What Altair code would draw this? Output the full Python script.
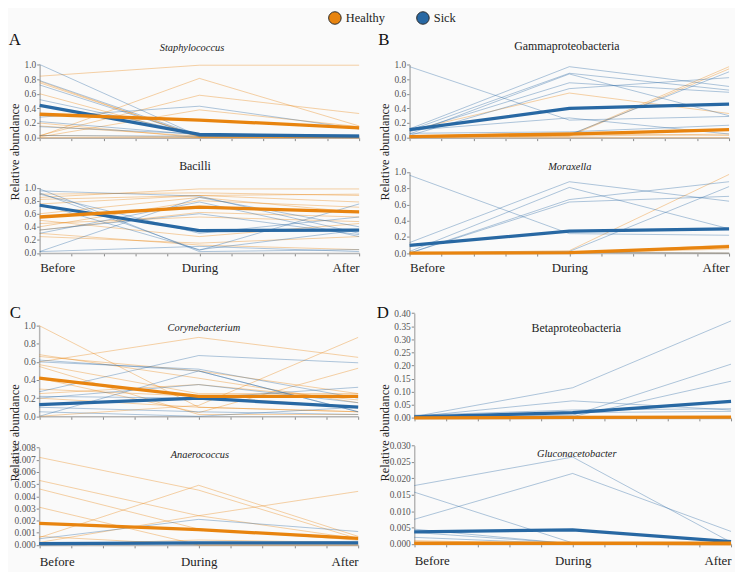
import altair as alt
import pandas as pd

W, H = 735, 564
FONT = "Liberation Serif"
ORANGE = "#E8840F"
BLUE = "#2868A3"

groups = ["Healthy", "Sick"]
time_labels = ["Before", "During", "After"]

# ---- data (relative abundance at Before / During / After) ----
staph_healthy = [[0.84, 0.99, 0.99], [0.02, 0.81, 0.16], [0.03, 0.58, 0.33], [0.77, 0.01, 0.01],
                 [0.75, 0.02, 0.02], [0.60, 0.01, 0.00], [0.20, 0.00, 0.00], [0.16, 0.02, 0.01],
                 [0.03, 0.01, 0.00], [0.00, 0.00, 0.00], [0.01, 0.38, 0.15]]
staph_sick = [[1.00, 0.02, 0.02], [0.78, 0.03, 0.02], [0.72, 0.02, 0.01], [0.52, 0.05, 0.02],
              [0.28, 0.43, 0.12], [0.22, 0.04, 0.03], [0.15, 0.05, 0.04], [0.03, 0.02, 0.01]]
staph_mean_healthy = [0.32, 0.24, 0.135]
staph_mean_sick = [0.44, 0.045, 0.02]

bacilli_healthy = [[0.85, 0.98, 0.98], [0.82, 0.88, 0.90], [0.90, 0.92, 0.88], [0.75, 0.88, 0.78],
                   [0.60, 0.85, 0.62], [0.45, 0.55, 0.48], [0.40, 0.80, 0.70], [0.30, 0.12, 0.05],
                   [0.25, 0.15, 0.25], [0.50, 0.25, 0.45], [0.35, 0.62, 0.55]]
bacilli_sick = [[0.98, 0.02, 0.05], [0.95, 0.87, 0.30], [0.92, 0.04, 0.75], [0.90, 0.30, 0.55],
                [0.35, 0.60, 0.28], [0.02, 0.85, 0.40], [0.30, 0.78, 0.25], [0.02, 0.10, 0.02],
                [0.75, 0.05, 0.35]]
bacilli_mean_healthy = [0.55, 0.70, 0.63]
bacilli_mean_sick = [0.73, 0.34, 0.35]

gamma_healthy = [[0.10, 0.61, 0.33], [0.02, 0.03, 0.97], [0.01, 0.02, 0.94], [0.00, 0.05, 0.03],
                 [0.02, 0.07, 0.10], [0.00, 0.00, 0.00], [0.01, 0.02, 0.05]]
gamma_sick = [[0.97, 0.24, 0.29], [0.12, 0.97, 0.70], [0.10, 0.88, 0.65], [0.05, 0.87, 0.30],
              [0.08, 0.75, 0.62], [0.03, 0.67, 0.82], [0.10, 0.27, 0.05], [0.02, 0.04, 0.90],
              [0.06, 0.08, 0.17]]
gamma_mean_healthy = [0.015, 0.05, 0.11]
gamma_mean_sick = [0.11, 0.40, 0.46]

morax_healthy = [[0.00, 0.03, 0.97], [0.00, 0.00, 0.10], [0.00, 0.00, 0.05], [0.00, 0.01, 0.00]]
morax_sick = [[0.96, 0.24, 0.22], [0.13, 0.88, 0.64], [0.02, 0.81, 0.30], [0.00, 0.66, 0.88],
              [0.00, 0.63, 0.70], [0.00, 0.02, 0.82], [0.00, 0.01, 0.00]]
morax_mean_healthy = [0.0, 0.005, 0.08]
morax_mean_sick = [0.095, 0.27, 0.30]

coryne_healthy = [[1.00, 0.10, 0.05], [0.68, 0.42, 0.15], [0.66, 0.50, 0.25], [0.60, 0.87, 0.65],
                  [0.57, 0.25, 0.25], [0.42, 0.04, 0.53], [0.30, 0.22, 0.10], [0.20, 0.10, 0.05],
                  [0.00, 0.12, 0.87], [0.55, 0.02, 0.02], [0.25, 0.35, 0.18]]
coryne_sick = [[0.62, 0.50, 0.05], [0.60, 0.52, 0.20], [0.27, 0.67, 0.59], [0.00, 0.50, 0.05],
               [0.20, 0.35, 0.15], [0.22, 0.20, 0.32], [0.05, 0.00, 0.10], [0.10, 0.05, 0.02]]
coryne_mean_healthy = [0.42, 0.22, 0.22]
coryne_mean_sick = [0.13, 0.20, 0.10]

anaero_healthy = [[0.0072, 0.0045, 0.0005], [0.0053, 0.0024, 0.0005], [0.0046, 0.0013, 0.0004],
                  [0.0031, 0.0000, 0.0000], [0.0006, 0.0049, 0.0007], [0.0002, 0.0024, 0.0044],
                  [0.0007, 0.0000, 0.0000], [0.0000, 0.0004, 0.0002]]
anaero_sick = [[0.0005, 0.0021, 0.0011], [0.0001, 0.0002, 0.0001], [0.0000, 0.0001, 0.0003]]
anaero_mean_healthy = [0.00176, 0.00125, 0.00054]
anaero_mean_sick = [0.0001, 0.00016, 0.00016]

beta_healthy = [[0.000, 0.002, 0.003], [0.001, 0.003, 0.005], [0.000, 0.000, 0.001]]
beta_sick = [[0.005, 0.115, 0.370], [0.005, 0.065, 0.030], [0.005, 0.010, 0.205],
             [0.005, 0.005, 0.140], [0.010, 0.030, 0.035], [0.005, 0.020, 0.025]]
beta_mean_healthy = [0.0005, 0.002, 0.003]
beta_mean_sick = [0.004, 0.020, 0.063]

glucon_healthy = [[0.0010, 0.0000, -0.0005], [0.0004, 0.0001, 0.0001], [0.0002, 0.0000, 0.0000]]
glucon_sick = [[0.0178, 0.0265, 0.0005], [0.0075, 0.0215, 0.0038], [0.0158, 0.0003, 0.0000],
               [0.0045, 0.0000, 0.0003], [0.0035, 0.0001, 0.0001], [0.0020, 0.0000, 0.0001]]
glucon_mean_healthy = [0.0002, 0.0002, 0.0002]
glucon_mean_sick = [0.0037, 0.0043, 0.0007]

panel_letters = ["A", "B", "C", "D"]

# ---- layout (pixel geometry of each panel, chart coordinates) ----
panels = [
    dict(title="Staphylococcus", italic=True, h=staph_healthy, s=staph_sick,
         mh=staph_mean_healthy, ms=staph_mean_sick, ydom=[0, 1], step=0.2, fmt=".1f",
         xr=[32, 355], yr=[128, 54], xlab=False, ytitle=True, tpos=(186, 37), titleX=-25, titleY=142),
    dict(title="Bacilli", italic=False, h=bacilli_healthy, s=bacilli_sick,
         mh=bacilli_mean_healthy, ms=bacilli_mean_sick, ydom=[0, 1], step=0.2, fmt=".1f",
         xr=[32, 355], yr=[244.5, 178.5], xlab=True, lpad=6, ytitle=False, tpos=(189, 157)),
    dict(title="Gammaproteobacteria", italic=False, h=gamma_healthy, s=gamma_sick,
         mh=gamma_mean_healthy, ms=gamma_mean_sick, ydom=[0, 1], step=0.2, fmt=".1f",
         xr=[406, 729], yr=[128, 54], xlab=False, ytitle=True, tpos=(565, 35), titleX=-25, titleY=142),
    dict(title="Moraxella", italic=True, h=morax_healthy, s=morax_sick,
         mh=morax_mean_healthy, ms=morax_mean_sick, ydom=[0, 1], step=0.2, fmt=".1f",
         xr=[406, 729], yr=[244.7, 162.7], xlab=True, lpad=6, ytitle=False, tpos=(568, 158)),
    dict(title="Corynebacterium", italic=True, h=coryne_healthy, s=coryne_sick,
         mh=coryne_mean_healthy, ms=coryne_mean_sick, ydom=[0, 1], step=0.2, fmt=".1f",
         xr=[31.5, 354], yr=[409.7, 318], xlab=False, ytitle=True, tpos=(198, 320), titleX=-24.5, titleY=426),
    dict(title="Anaerococcus", italic=True, h=anaero_healthy, s=anaero_sick,
         mh=anaero_mean_healthy, ms=anaero_mean_sick, ydom=[0, 0.008], step=0.001, fmt=".3f",
         xr=[31.5, 354], yr=[539.7, 441.3], xlab=True, lpad=8, ytitle=False, tpos=(194, 449)),
    dict(title="Betaproteobacteria", italic=False, h=beta_healthy, s=beta_sick,
         mh=beta_mean_healthy, ms=beta_mean_sick, ydom=[0, 0.4], step=0.05, fmt=".2f",
         xr=[410.7, 731], yr=[411.3, 305.3], xlab=False, ytitle=True, tpos=(574.5, 320), titleX=-29.7, titleY=426),
    dict(title="Gluconacetobacter", italic=True, h=glucon_healthy, s=glucon_sick,
         mh=glucon_mean_healthy, ms=glucon_mean_sick, ydom=[0, 0.03], step=0.005, fmt=".3f",
         xr=[410.7, 731], yr=[538.7, 439.3], xlab=True, lpad=8, ytitle=False, tpos=(575, 448)),
]
letter_pos = [(7, 29.5), (380, 29.5), (7.5, 305), (379, 305.5)]

color_scale = alt.Scale(domain=groups, range=[ORANGE, BLUE])
xticks = [i / 5 for i in range(11)]
label_expr = ("datum.value == 0 ? '%s' : datum.value == 1 ? '%s' : datum.value == 2 ? '%s' : ''"
              % tuple(time_labels))


def make_panel(p):
    rows = []
    for grp, series in (("Healthy", p["h"]), ("Sick", p["s"])):
        for i, vals in enumerate(series):
            for t, v in enumerate(vals):
                rows.append(dict(group=grp, subj=f"{grp}{i}", t=t, v=v))
    thin_df = pd.DataFrame(rows)
    mh = pd.DataFrame(dict(group="Healthy", t=[0, 1, 2], v=p["mh"]))
    ms = pd.DataFrame(dict(group="Sick", t=[0, 1, 2], v=p["ms"]))

    n = int(round(p["ydom"][1] / p["step"]))
    yticks = [round(k * p["step"], 6) for k in range(n + 1)]
    xs = alt.Scale(domain=[0, 2], range=p["xr"], nice=False, zero=False)
    ys = alt.Scale(domain=p["ydom"], range=p["yr"], nice=False, zero=False)
    xaxis_kw = dict(orient="bottom", offset=p["yr"][0] - H, values=xticks, title=None,
                    domainColor="#b5b5b5", domainWidth=1.5, tickColor="#888888", tickSize=3,
                    grid=False)
    if p["xlab"]:
        xaxis_kw.update(labelExpr=label_expr, labelFlush=True, labelFontSize=13,
                        labelColor="#222222", labelFont=FONT, labelPadding=p["lpad"],
                        labelOverlap=False)
    else:
        xaxis_kw.update(labels=False)
    yaxis_kw = dict(orient="left", offset=-p["xr"][0], values=yticks, format=p["fmt"],
                    domainColor="#b5b5b5", domainWidth=1.5, tickColor="#888888", tickSize=3,
                    labelFont=FONT, labelFontSize=9.5, labelColor="#555555", labelPadding=1,
                    grid=False)
    if p["ytitle"]:
        yaxis_kw.update(title="Relative abundance", titleFont=FONT, titleFontSize=12.5,
                        titleFontWeight="normal", titleColor="#222222", titleX=p["titleX"],
                        titleY=p["titleY"], titleAngle=-90, titleAlign="center",
                        titleBaseline="middle")
    else:
        yaxis_kw.update(title=None)
    X = alt.X("t:Q", scale=xs, axis=alt.Axis(**xaxis_kw))
    Y = alt.Y("v:Q", scale=ys, axis=alt.Axis(**yaxis_kw))
    C = alt.Color("group:N", scale=color_scale, legend=None)

    thin = alt.Chart(thin_df).mark_line(strokeWidth=0.9, opacity=0.42).encode(
        x=X, y=Y, color=C, detail="subj:N")
    thick_s = alt.Chart(ms).mark_line(strokeWidth=3.3).encode(x=X, y=Y, color=C)
    thick_h = alt.Chart(mh).mark_line(strokeWidth=3.3).encode(x=X, y=Y, color=C)
    title = alt.Chart(pd.DataFrame(dict(label=[p["title"]]))).mark_text(
        font=FONT, fontSize=10.5 if p["italic"] else 12,
        fontStyle="italic" if p["italic"] else "normal", color="#222222",
        align="center", baseline="middle").encode(
        x=alt.value(p["tpos"][0]), y=alt.value(p["tpos"][1]), text="label:N")
    return alt.layer(thin, thick_s, thick_h, title)


layers = [make_panel(p) for p in panels]

for (lx, ly), letter in zip(letter_pos, panel_letters):
    layers.append(
        alt.Chart(pd.DataFrame(dict(letter=[letter]))).mark_text(
            font=FONT, fontSize=17, color="#111111", align="center", baseline="middle").encode(
            x=alt.value(lx), y=alt.value(ly), text="letter:N"))

# legend: circles + labels drawn from the group list through their own scale
legend_df = pd.DataFrame(dict(group=groups, k=[0, 1]))
lx_scale = alt.Scale(domain=[0, 1], range=[330.5, 419.5])
legend_pts = alt.Chart(legend_df).mark_point(
    filled=True, size=160, stroke="#2a2a2a", strokeWidth=1, opacity=1).encode(
    x=alt.X("k:Q", scale=lx_scale, axis=None),
    y=alt.value(7),
    fill=alt.Fill("group:N", scale=color_scale, legend=None))
legend_txt = alt.Chart(legend_df).mark_text(
    font=FONT, fontSize=12.5, color="#222222", align="left", baseline="middle", dx=11).encode(
    x=alt.X("k:Q", scale=lx_scale, axis=None),
    y=alt.value(7.5),
    text="group:N")
layers.append(alt.layer(legend_pts, legend_txt))

chart = alt.layer(*layers).resolve_scale(x="independent", y="independent").properties(
    width=W, height=H, autosize=alt.AutoSizeParams(type="none"), padding=0,
    background="#fafafa").configure_view(stroke=None)

chart.save("out.html", embed_options={"renderer": "svg", "actions": False})
